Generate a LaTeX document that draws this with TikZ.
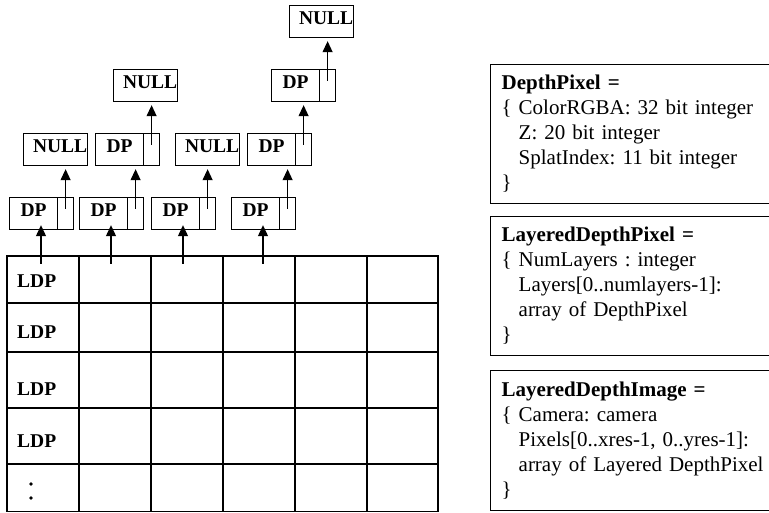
\documentclass[tikz,border=0pt]{standalone}
\usepackage{fontspec}
\setmainfont{Liberation Serif}
\usetikzlibrary{arrows.meta,calc}
\frenchspacing
\begin{document}
\begin{tikzpicture}[x=1pt,y=-1pt,
  lw/.style={line width=1.2pt},
  arr/.style={lw,-{Triangle[width=10pt,length=11pt]}},
  cellbox/.style={draw,lw,anchor=north west,minimum height=32pt,inner sep=0pt,text depth=7pt,
    font=\fontsize{19.5}{22}\selectfont\bfseries},
  dpbox/.style={cellbox,minimum width=48pt},
  ptrbox/.style={cellbox,minimum width=16pt},
  nullbox/.style={cellbox,minimum width=64pt},
  lbl/.style={anchor=base west,inner sep=0pt,font=\fontsize{19.5}{22}\selectfont\bfseries},
  dot/.style={circle,fill,inner sep=0pt,minimum size=3.6pt},
  rbox/.style={draw,lw,anchor=north west,text width=278pt,align=left,inner xsep=11pt,inner ysep=0pt,
    font=\fontsize{21}{25}\selectfont}
]
\clip (0,0) rectangle (769,513);
% grid
\draw[lw] (7,256) rectangle (438,511.5);
\foreach \x in {79,151,223,295,367} \draw[lw] (\x,256) -- (\x,511.5);
\foreach \y in {303,352,408,464} \draw[lw] (7,\y) -- (438,\y);
\node[lbl] (l1) at (17,288) {LDP};
\node[lbl] (l2) at (17,338) {LDP};
\node[lbl] (l3) at (17,395) {LDP};
\node[lbl] (l4) at (17,447) {LDP};
\node[dot] (d1) at (31,484) {};
\node[dot] (d2) at (31,498) {};
\coordinate (g1) at (41,264);
\coordinate (g2) at (111,264);
\coordinate (g3) at (183,264);
\coordinate (g4) at (263,264);
% row 1
\node[dpbox] (dp11) at (9,197) {DP};
\node[ptrbox] (p11) at (57,197) {};
\node[dpbox] (dp12) at (79,197) {DP};
\node[ptrbox] (p12) at (127,197) {};
\node[dpbox] (dp13) at (151,197) {DP};
\node[ptrbox] (p13) at (199,197) {};
\node[dpbox] (dp14) at (231,197) {DP};
\node[ptrbox] (p14) at (279,197) {};
% row 2
\node[nullbox] (n21) at (23,133) {\hspace*{9pt}NULL};
\node[dpbox] (dp22) at (95,133) {DP};
\node[ptrbox] (p22) at (143,133) {};
\node[nullbox] (n23) at (175,133) {\hspace*{9pt}NULL};
\node[dpbox] (dp24) at (247,133) {DP};
\node[ptrbox] (p24) at (295,133) {};
% row 3
\node[nullbox] (n31) at (113,69) {\hspace*{9pt}NULL};
\node[dpbox] (dp34) at (271,69) {DP};
\node[ptrbox] (p34) at (319,69) {};
% row 4
\node[nullbox] (n44) at (289,5) {\hspace*{9pt}NULL};
% arrows grid -> DP
\foreach \g/\b in {g1/dp11,g2/dp12,g3/dp13,g4/dp14}
  \draw[arr] (\g) -- ($(\g |- \b.south)+(0,-5)$);
% pointer arrows
\foreach \p/\b in {p11/n21,p12/dp22,p13/n23,p14/dp24,p22/n31,p24/dp34,p34/n44}
  \draw[arr] ($(\p.center)+(0,-5)$) -- ($(\p.center |- \b.south)+(0,3)$);
% right boxes
\node[rbox,minimum height=139pt] (b1) at (490,64) {\textbf{DepthPixel =}\\
\{ ColorRGBA: 32 bit integer\\
\hphantom{\{ }Z: 20 bit integer\\
\hphantom{\{ }SplatIndex: 11 bit integer\\
\}};
\node[rbox,minimum height=139pt] (b2) at (490,216) {\textbf{LayeredDepthPixel =}\\
\{ NumLayers : integer\\
\hphantom{\{ }Layers[0..numlayers-1]:\\
\hphantom{\{ }array of DepthPixel\\
\}};
\node[rbox,minimum height=140pt] (b3) at (490,370) {\textbf{LayeredDepthImage =}\\
\{ Camera: camera\\
\hphantom{\{ }Pixels[0..xres-1, 0..yres-1]:\\
\hphantom{\{ }array of Layered DepthPixel\\
\}};
\end{tikzpicture}
\end{document}
